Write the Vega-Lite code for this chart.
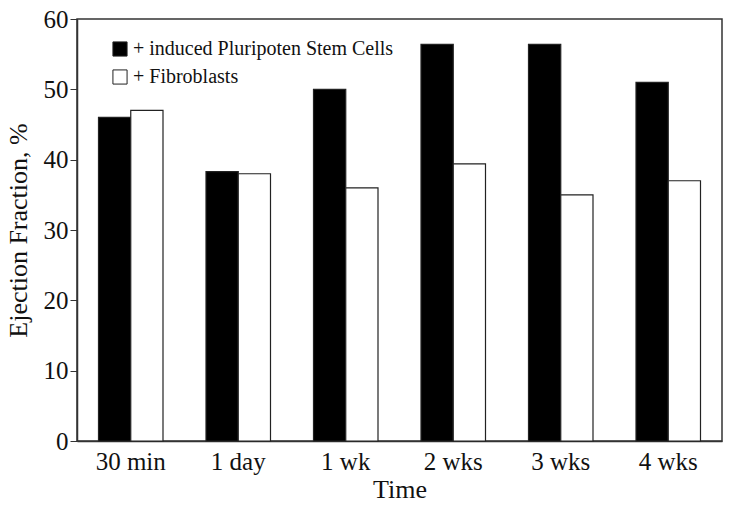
{
  "$schema": "https://vega.github.io/schema/vega-lite/v6.json",
  "width": 645,
  "height": 422,
  "autosize": "none",
  "padding": {"left": 77, "top": 19, "right": 19, "bottom": 75},
  "background": "white",
  "config": {
    "font": "Liberation Serif",
    "axis": {"labelFont": "Liberation Serif", "titleFont": "Liberation Serif"},
    "legend": {"labelFont": "Liberation Serif"},
    "view": {"stroke": "#333", "strokeWidth": 1.5}
  },
  "data": {
    "values": [
      {"Time": "30 min", "Group": "+ induced Pluripoten Stem Cells", "EF": 46},
      {"Time": "30 min", "Group": "+ Fibroblasts", "EF": 47},
      {"Time": "1 day", "Group": "+ induced Pluripoten Stem Cells", "EF": 38.3},
      {"Time": "1 day", "Group": "+ Fibroblasts", "EF": 38},
      {"Time": "1 wk", "Group": "+ induced Pluripoten Stem Cells", "EF": 50},
      {"Time": "1 wk", "Group": "+ Fibroblasts", "EF": 36},
      {"Time": "2 wks", "Group": "+ induced Pluripoten Stem Cells", "EF": 56.4},
      {"Time": "2 wks", "Group": "+ Fibroblasts", "EF": 39.4},
      {"Time": "3 wks", "Group": "+ induced Pluripoten Stem Cells", "EF": 56.4},
      {"Time": "3 wks", "Group": "+ Fibroblasts", "EF": 35},
      {"Time": "4 wks", "Group": "+ induced Pluripoten Stem Cells", "EF": 51},
      {"Time": "4 wks", "Group": "+ Fibroblasts", "EF": 37}
    ]
  },
  "mark": {"type": "bar", "stroke": "#222", "strokeWidth": 1.2},
  "encoding": {
    "x": {
      "field": "Time",
      "type": "nominal",
      "sort": ["30 min", "1 day", "1 wk", "2 wks", "3 wks", "4 wks"],
      "scale": {"paddingInner": 0.4, "paddingOuter": 0.2},
      "title": "Time",
      "axis": {
        "labelAngle": 0,
        "labelFontSize": 25,
        "labelColor": "#111",
        "labelPadding": 8,
        "ticks": false,
        "domainColor": "#333",
        "domainWidth": 1.5,
        "titleFontSize": 26,
        "titleFontWeight": "normal",
        "titleColor": "#111",
        "titlePadding": 2
      }
    },
    "xOffset": {
      "field": "Group",
      "type": "nominal",
      "sort": ["+ induced Pluripoten Stem Cells", "+ Fibroblasts"],
      "scale": {"paddingInner": 0}
    },
    "y": {
      "field": "EF",
      "type": "quantitative",
      "scale": {"domain": [0, 60]},
      "title": "Ejection Fraction, %",
      "axis": {
        "values": [0, 10, 20, 30, 40, 50, 60],
        "grid": false,
        "labelFontSize": 25,
        "labelColor": "#111",
        "labelPadding": 2,
        "tickSize": 7,
        "tickColor": "#333",
        "domainColor": "#333",
        "domainWidth": 1.5,
        "titleFontSize": 26,
        "titleFontWeight": "normal",
        "titleColor": "#111",
        "titlePadding": 12
      }
    },
    "fill": {
      "field": "Group",
      "type": "nominal",
      "sort": ["+ induced Pluripoten Stem Cells", "+ Fibroblasts"],
      "scale": {"range": ["black", "white"]},
      "legend": {
        "title": null,
        "orient": "none",
        "legendX": 33,
        "legendY": 20,
        "symbolType": "square",
        "symbolSize": 200,
        "symbolStrokeColor": "#222",
        "symbolStrokeWidth": 1,
        "labelFontSize": 20,
        "labelFont": "Liberation Serif",
        "labelLimit": 0,
        "labelColor": "#111",
        "labelOffset": 3,
        "rowPadding": 8
      }
    }
  }
}
